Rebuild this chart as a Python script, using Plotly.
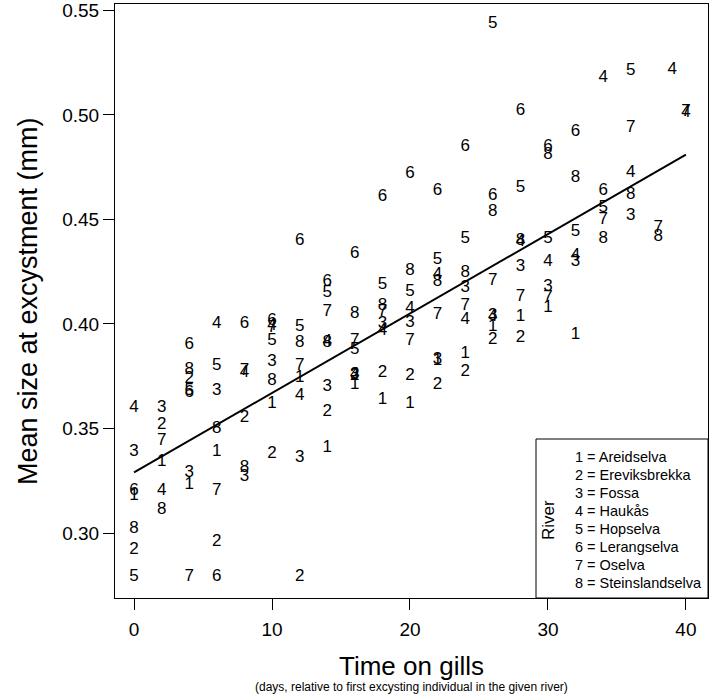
import plotly.graph_objects as go

# ---------------- data ----------------
river_codes = ["1", "2", "3", "4", "5", "6", "7", "8"]
river_names = ["Areidselva", "Ereviksbrekka", "Fossa", "Haukås",
               "Hopselva", "Lerangselva", "Oselva", "Steinslandselva"]

r1_days = [0, 2, 4, 6, 10, 12, 14, 16, 18, 20, 22, 24, 26, 28, 30, 32]
r1_size = [0.318, 0.334, 0.323, 0.339, 0.362, 0.3745, 0.341, 0.371, 0.3636,
           0.362, 0.3825, 0.386, 0.3985, 0.4033, 0.408, 0.395]

r2_days = [0, 2, 4, 6, 8, 10, 12, 14, 16, 18, 20, 22, 24, 26, 28]
r2_size = [0.292, 0.352, 0.374, 0.296, 0.355, 0.338, 0.279, 0.358, 0.375,
           0.3765, 0.375, 0.371, 0.377, 0.3925, 0.3933]

r3_days = [0, 2, 4, 6, 8, 10, 12, 14, 16, 18, 20, 22, 24, 26, 28, 30, 32, 36]
r3_size = [0.339, 0.360, 0.329, 0.368, 0.327, 0.382, 0.336, 0.370, 0.3755,
           0.400, 0.4005, 0.383, 0.4172, 0.404, 0.4273, 0.418, 0.430, 0.4517]

r4_days = [0, 2, 6, 8, 10, 12, 14, 16, 18, 20, 22, 24, 26, 28, 30, 32, 34,
           36, 39, 40]
r4_size = [0.360, 0.320, 0.400, 0.3765, 0.399, 0.3655, 0.3915, 0.3755,
           0.397, 0.4075, 0.4234, 0.402, 0.4035, 0.4395, 0.430, 0.4325,
           0.5177, 0.4722, 0.5215, 0.501]

r5_days = [0, 4, 6, 10, 12, 14, 16, 18, 20, 22, 24, 26, 28, 30, 32, 34, 36]
r5_size = [0.279, 0.368, 0.380, 0.392, 0.3985, 0.415, 0.3875, 0.4187,
           0.4155, 0.4306, 0.4407, 0.5435, 0.465, 0.4407, 0.444, 0.4555,
           0.521]

r6_days = [0, 4, 4, 6, 8, 10, 12, 14, 16, 18, 20, 22, 24, 26, 28, 30, 32, 34]
r6_size = [0.320, 0.390, 0.367, 0.279, 0.400, 0.4015, 0.440, 0.420, 0.4335,
           0.461, 0.472, 0.4636, 0.4847, 0.4612, 0.502, 0.4847, 0.4919,
           0.4636]

r7_days = [2, 4, 6, 8, 10, 12, 14, 16, 18, 20, 22, 24, 26, 28, 30, 34, 36,
           38, 40]
r7_size = [0.344, 0.279, 0.320, 0.3775, 0.398, 0.380, 0.406, 0.392, 0.4057,
           0.392, 0.4043, 0.4086, 0.4206, 0.413, 0.4124, 0.4498, 0.494,
           0.446, 0.5014]

r8_days = [0, 2, 4, 6, 8, 10, 12, 14, 16, 18, 20, 22, 24, 26, 28, 30, 32,
           34, 36, 38]
r8_size = [0.302, 0.311, 0.378, 0.350, 0.331, 0.373, 0.391, 0.391, 0.405,
           0.4086, 0.4255, 0.420, 0.4244, 0.4536, 0.440, 0.481, 0.470,
           0.441, 0.462, 0.4416]

fit_days = [0, 40]
fit_size = [0.329, 0.481]

x_ticks = [0, 10, 20, 30, 40]
y_ticks = [0.30, 0.35, 0.40, 0.45, 0.50, 0.55]

# ---------------- figure ----------------
FONT = "Liberation Sans, Arial, Helvetica, sans-serif"
all_days = [r1_days, r2_days, r3_days, r4_days, r5_days, r6_days, r7_days, r8_days]
all_size = [r1_size, r2_size, r3_size, r4_size, r5_size, r6_size, r7_size, r8_size]

fig = go.Figure()
for code, d, s in zip(river_codes, all_days, all_size):
    fig.add_trace(go.Scatter(
        x=d, y=s, mode="text", text=[code] * len(d),
        textposition="middle center",
        textfont=dict(family=FONT, size=17, color="black"),
        hoverinfo="skip", showlegend=False, cliponaxis=False))

fig.add_trace(go.Scatter(
    x=fit_days, y=fit_size, mode="lines",
    line=dict(color="black", width=2), hoverinfo="skip", showlegend=False))

# plot area in pixels: x 115..708, y 4..598
PL, PR, PT, PB = 115, 708, 4, 598
W, H = 709, 696


def py(p):  # pixel y -> paper y
    return (PB - p) / (PB - PT)


def px(p):  # pixel x -> paper x
    return (p - PL) / (PR - PL)


fig.update_layout(
    width=W, height=H,
    margin=dict(l=PL, r=W - PR, t=PT, b=H - PB, pad=0),
    plot_bgcolor="white", paper_bgcolor="white",
    font=dict(family=FONT, color="black"),
    showlegend=False,
    xaxis=dict(range=[-1.38, 41.6], tickvals=x_ticks,
               ticks="outside", ticklen=11, tickwidth=1, tickcolor="black",
               ticklabelstandoff=3,
               showline=True, mirror=True, linecolor="black", linewidth=1,
               showgrid=False, zeroline=False,
               tickfont=dict(size=19, family=FONT, color="black")),
    yaxis=dict(range=[0.2689, 0.5531], tickvals=y_ticks, tickformat=".2f",
               ticks="outside", ticklen=11, tickwidth=1, tickcolor="black",
               showline=True, mirror=True, linecolor="black", linewidth=1,
               showgrid=False, zeroline=False,
               tickfont=dict(size=19, family=FONT, color="black")),
)

annotations = [
    dict(text="Time on gills", x=0.5, y=py(666), xref="paper", yref="paper",
         showarrow=False, xanchor="center", yanchor="middle",
         font=dict(size=26, family=FONT, color="black")),
    dict(text="(days, relative to first excysting individual in the given river)",
         x=0.5, y=py(687), xref="paper", yref="paper", showarrow=False,
         xanchor="center", yanchor="middle",
         font=dict(size=12, family=FONT, color="black")),
    dict(text="Mean size at excystment (mm)", x=px(28), y=0.5,
         xref="paper", yref="paper", showarrow=False, textangle=-90,
         xanchor="center", yanchor="middle",
         font=dict(size=27, family=FONT, color="black")),
    dict(text="River", x=px(548), y=py(520), xref="paper", yref="paper",
         showarrow=False, textangle=-90, xanchor="center", yanchor="middle",
         font=dict(size=17, family=FONT, color="black")),
]
for i, (code, name) in enumerate(zip(river_codes, river_names)):
    annotations.append(dict(
        text=f"{code} = {name}", x=px(573), y=py(457 + 18 * i),
        xref="paper", yref="paper", showarrow=False,
        xanchor="left", yanchor="middle",
        font=dict(size=14.5, family=FONT, color="black")))
fig.update_layout(annotations=annotations)

fig.add_shape(type="rect", xref="paper", yref="paper",
              x0=px(536), x1=1, y0=0, y1=py(439),
              line=dict(color="black", width=1), fillcolor="white",
              layer="below")

fig.write_html("out.html",
               config={"displayModeBar": False},
               post_script="document.body.style.margin='0px';"
                           "document.body.style.padding='0px';")
